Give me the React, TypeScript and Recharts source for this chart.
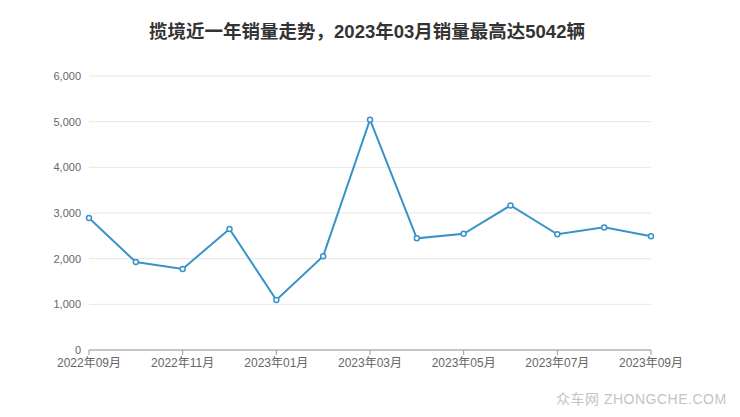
import React from "react";
import { LineChart, Line, XAxis, YAxis, CartesianGrid } from "recharts";

const months = [
  "2022年09月", "2022年10月", "2022年11月", "2022年12月", "2023年01月", "2023年02月",
  "2023年03月", "2023年04月", "2023年05月", "2023年06月", "2023年07月", "2023年08月", "2023年09月",
];
const sales = [2890, 1925, 1775, 2650, 1095, 2055, 5042, 2445, 2545, 3165, 2535, 2685, 2490];
const yTicks = [0, 1000, 2000, 3000, 4000, 5000, 6000];

const data = months.map((m, i) => ({ month: m, sales: sales[i] }));

const FONT = '"Liberation Sans", "Noto Sans CJK SC", sans-serif';

export default function App() {
  return (
    <div style={{ position: "absolute", left: 0, top: 0, width: 740, height: 417, background: "#fff", fontFamily: FONT }}>
      <div style={{ position: "absolute", left: 0, top: 20, width: 734, textAlign: "center", fontSize: 18.5, fontWeight: 700, color: "#333", lineHeight: "24px" }}>
        揽境近一年销量走势，2023年03月销量最高达5042辆
      </div>
      <LineChart width={740} height={417} data={data} margin={{ top: 76, right: 89, bottom: 37, left: 0 }}>
        <CartesianGrid vertical={false} stroke="#e6e6e6" />
        <XAxis
          dataKey="month"
          interval={1}
          stroke="#999"
          tickSize={5}
          tickMargin={3}
          height={30}
          tick={{ fill: "#666", fontSize: 12, fontFamily: FONT }}
        />
        <YAxis
          width={89}
          domain={[0, 6000]}
          ticks={yTicks}
          axisLine={false}
          tickLine={false}
          tickSize={0}
          tickMargin={8}
          tickFormatter={(v: number) => v.toLocaleString("en-US")}
          tick={{ fill: "#666", fontSize: 11, fontFamily: FONT }}
        />
        <Line
          type="linear"
          dataKey="sales"
          stroke="#3a93c8"
          strokeWidth={2}
          dot={{ r: 2.5, stroke: "#3a93c8", strokeWidth: 1.5, fill: "#fff" }}
          isAnimationActive={false}
        />
      </LineChart>
      <div style={{ position: "absolute", left: 556, top: 388, fontSize: 14, color: "#c4c4c4", whiteSpace: "nowrap", letterSpacing: 0.5 }}>
        众车网 ZHONGCHE.COM
      </div>
    </div>
  );
}
